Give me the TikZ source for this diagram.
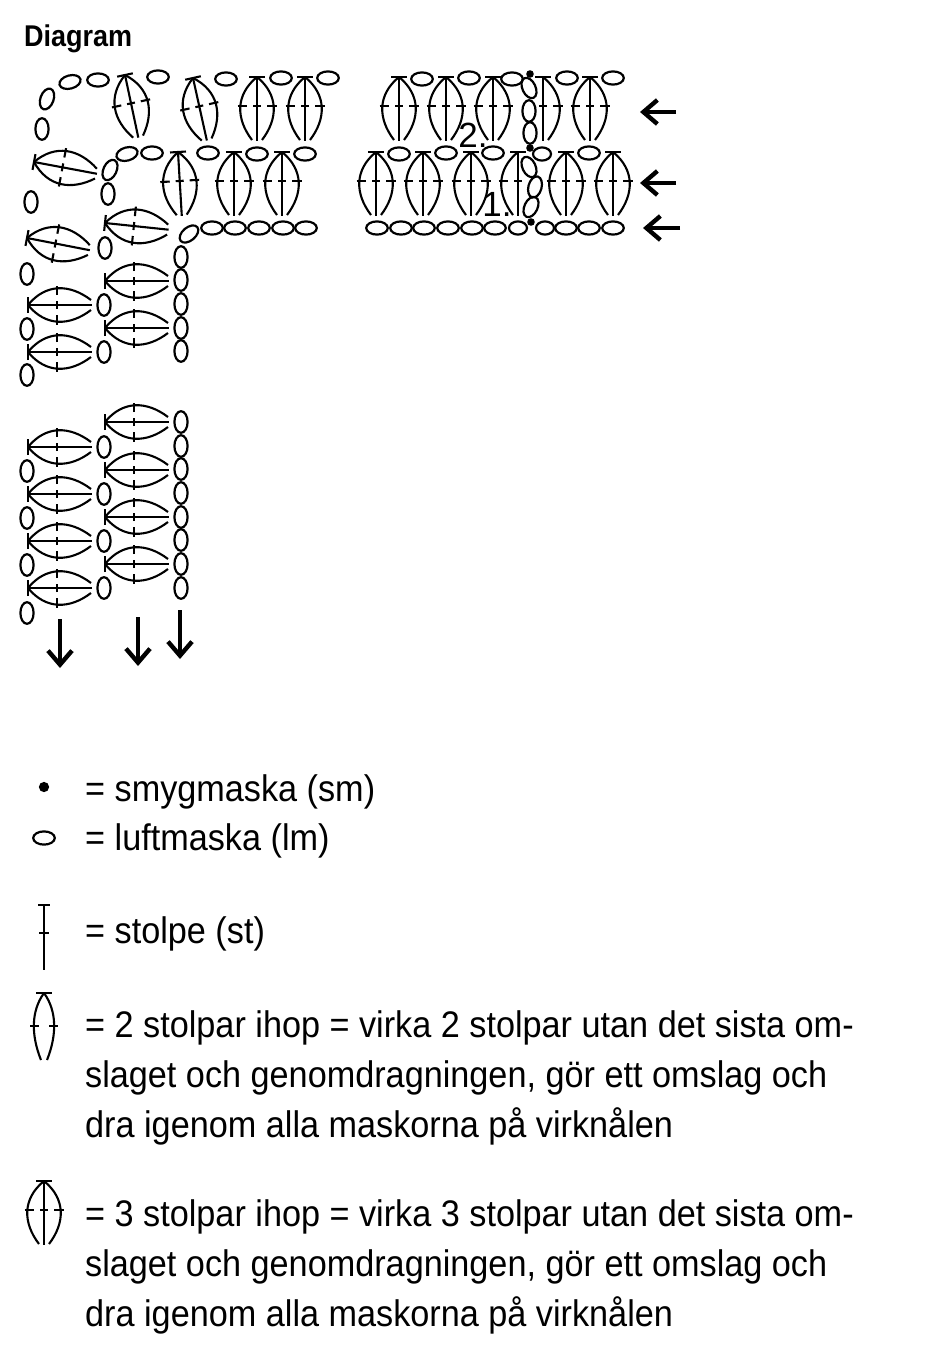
\documentclass[tikz,border=0pt]{standalone}
\usepackage{fontspec}
\setmainfont{Liberation Sans}
\newfontfamily\titlefont[FakeStretch=0.9]{Liberation Sans}
\newfontfamily\legendfont[FakeStretch=0.925]{Liberation Sans}
\usetikzlibrary{arrows.meta, positioning}
% parts of a cluster, apex at the origin
\newcommand{\clusterbar}{\draw[stitchline] (-8,0) -- (8,0);}
\newcommand{\clusterstem}{\draw[stitchline] (0,0) -- (0,64); \draw[stitchline] (-4,29) -- (4,29);}
\newcommand{\clusterleft}{\draw[stitchline] (0,0) .. controls (-22,18) and (-21,42) .. (-5,63);
  \draw[stitchline] (-19.5,29) -- (-10,29);}
\newcommand{\clusterright}{\draw[stitchline] (0,0) .. controls (22,18) and (21,42) .. (5,63);
  \draw[stitchline] (10,29) -- (19.5,29);}
\tikzset{
  stitchline/.style={line width=2.1pt, color=black},
  loopline/.style={line width=2.2pt, color=black},
  rowarrow/.style={-{Straight Barb[length=14pt, width=24pt, line width=4.4pt]}, line width=4.4pt, color=black},
  legendtext/.style={font=\legendfont\fontsize{37}{50}\selectfont, anchor=west, inner sep=0pt, align=left},
  rownumber/.style={font=\fontsize{35}{35}\selectfont, inner sep=0pt},
  chainloop/.pic={\draw[loopline] (0,0) ellipse [x radius=10.8, y radius=6.6];},
  shortloop/.pic={\draw[loopline] (0,0) ellipse [x radius=9, y radius=6.6];},
  slipdot/.pic={\fill (0,0) circle [radius=3.8];},
  clusterthree/.pic={\clusterbar \clusterstem \clusterleft \clusterright},
  halfleft/.pic={\clusterbar \clusterstem \clusterleft},
  halfright/.pic={\clusterbar \clusterstem \clusterright},
  clustertwo/.pic={\clusterbar
    \draw[stitchline] (0,0) .. controls (-13,18) and (-13,42) .. (-3,67);
    \draw[stitchline] (0,0) .. controls (13,18) and (13,42) .. (3,67);
    \draw[stitchline] (-14,33) -- (-5,33);
    \draw[stitchline] (5,33) -- (14,33);},
  singlestitch/.pic={\draw[stitchline] (-6,0) -- (6,0);
    \draw[stitchline] (0,0) -- (0,65);
    \draw[stitchline] (-5,28) -- (5,28);}
}

\begin{document}
\begin{tikzpicture}[x=1pt, y=-1pt]
  \useasboundingbox (0,0) rectangle (925,1358);

  % Title
  \node[font=\titlefont\bfseries\fontsize{30}{30}\selectfont, anchor=west, inner sep=0pt] (title) at (24,39) {Diagram};

  % Clusters along the top rows
  \foreach \x/\y/\r in {125/75/12, 193/78/12.5, 257/77/0, 305/77/0, 178/152/3.4, 234/152/0, 282/152/0,
      399/77/0, 446/77/0, 493/77/0, 590/77/0, 376/152/0, 423/152/0, 471/152/0, 566/152/0, 613/152/0}
    \pic[rotate=\r] at (\x,\y) {clusterthree};

  % Clusters cut by the slip stitch column
  \pic at (543,77) {halfright};
  \pic at (518,152) {halfleft};

  % Clusters along the side
  \foreach \x/\y/\r in {34/162/79.4, 27/238/79, 28/305/90, 28/352/90, 105/223/84, 105/281/90, 105/328/90,
      28/447/90, 28/494/90, 28/541/90, 28/588/90, 105/422/90, 105/470/90, 105/517/90, 105/564/90}
    \pic[rotate=\r] at (\x,\y) {clusterthree};

  % Chain stitches, flat
  \foreach \x/\y in {158/77, 226/79, 281/78, 328/78, 98/80, 152/153, 208/153, 257/154, 305/154,
      212/228, 235/228, 259/228, 283/228, 306/228,
      422/79, 469/78, 512/79, 567/78, 613/78, 399/154, 446/153, 493/153, 589/153,
      377/228, 401/228, 424/228, 448/228, 472/228, 495/228, 566/228, 589/228, 613/228}
    \pic at (\x,\y) {chainloop};
  \pic at (518,228) {shortloop};
  \pic at (545,228) {shortloop};
  \pic at (542,154) {shortloop};

  % Chain stitches, upright
  \foreach \x/\y in {42/129, 108/194, 31/202, 105/248, 27/274, 27/329, 27/375, 104/305, 104/352,
      181/257, 181/280, 181/304, 181/328, 181/351,
      181/422, 181/446, 181/469, 181/493, 181/517, 181/540, 181/564, 181/588,
      104/447, 104/494, 104/541, 104/588, 27/471, 27/518, 27/565, 27/613,
      529/111, 530/133}
    \pic[rotate=90] at (\x,\y) {chainloop};

  % Chain stitches, tilted
  \foreach \x/\y/\r in {70/82/15, 47/99/70, 127/154/15, 110/170/65, 189/234/40,
      529/88/-65, 529/167/-65, 535/187/75, 531/207/65}
    \pic[rotate=\r] at (\x,\y) {chainloop};

  % Slip stitches
  \foreach \x/\y in {530/74, 530/148, 531/222}
    \pic at (\x,\y) {slipdot};

  % Row numbers
  \node[rownumber] (rowtwo) at (473,135) {2.};
  \node[rownumber] (rowone) at (497,204) {1.};

  % Direction arrows
  \draw[rowarrow] (676,112) -- (640,112);
  \draw[rowarrow] (676,183) -- (640,183);
  \draw[rowarrow] (680,228) -- (643,228);
  \draw[rowarrow] (60,619) -- (60,668);
  \draw[rowarrow] (138,617) -- (138,666);
  \draw[rowarrow] (180,610) -- (180,659);

  % Legend
  \pic[scale=1.35] at (44,787) {slipdot};
  \pic at (44,838) {chainloop};
  \pic at (44,905) {singlestitch};
  \pic at (44,993) {clustertwo};
  \pic at (44,1181) {clusterthree};
  \node[legendtext] (slip) at (85,792) {= smygmaska (sm)};
  \node[legendtext] (chain) at (85,841) {= luftmaska (lm)};
  \node[legendtext] (single) at (85,934) {= stolpe (st)};
  \node[legendtext] (two) at (85,1078) {= 2 stolpar ihop = virka 2 stolpar utan det sista om-\\
    slaget och genomdragningen, gör ett omslag och\\
    dra igenom alla maskorna på virknålen};
  \node[legendtext] (three) at (85,1267) {= 3 stolpar ihop = virka 3 stolpar utan det sista om-\\
    slaget och genomdragningen, gör ett omslag och\\
    dra igenom alla maskorna på virknålen};
\end{tikzpicture}
\end{document}
